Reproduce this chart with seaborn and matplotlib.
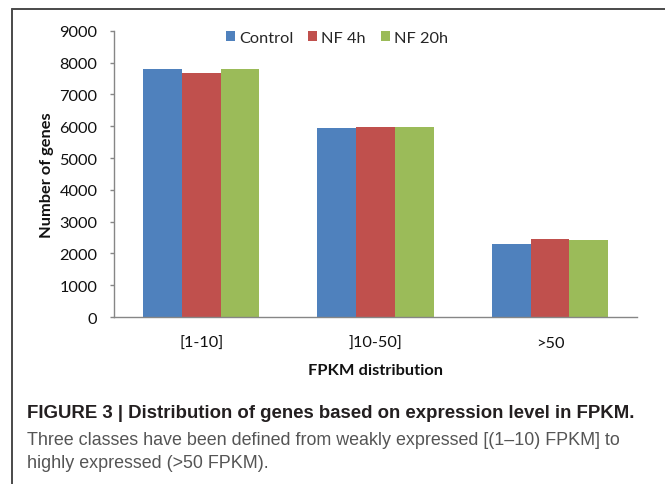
import matplotlib
matplotlib.use("Agg")
import matplotlib.pyplot as plt
from matplotlib.lines import Line2D
from matplotlib.patches import Patch
from matplotlib import font_manager
import seaborn as sns
import pandas as pd

categories = ["[1-10]", "]10-50]", ">50"]
series = ["Control", "NF 4h", "NF 20h"]
control = [7810, 5940, 2305]
nf4h = [7670, 5970, 2440]
nf20h = [7790, 5970, 2410]
colors = ["#4F81BD", "#C0504D", "#9BBB59"]
yticks = [0, 1000, 2000, 3000, 4000, 5000, 6000, 7000, 8000, 9000]

rows = []
for name, vals in zip(series, [control, nf4h, nf20h]):
    for c, v in zip(categories, vals):
        rows.append({"category": c, "series": name, "value": v})
df = pd.DataFrame(rows)

sns.set_theme(style="white")
names = {f.name for f in font_manager.fontManager.ttflist}
chart_font = "Lato" if "Lato" in names else "DejaVu Sans"
cap_font = "Liberation Sans Narrow" if "Liberation Sans Narrow" in names else "Liberation Sans"
plt.rcParams["font.family"] = [chart_font, "DejaVu Sans"]

FS = 11.8
fig = plt.figure(figsize=(6.65, 4.85), dpi=100)
ax = fig.add_axes([0.1714, 0.3443, 0.958 - 0.1714, 0.590])

sns.barplot(data=df, x="category", y="value", hue="series", order=categories,
            hue_order=series, palette=colors, width=0.667, gap=0,
            saturation=1, edgecolor="none", linewidth=0, ax=ax, legend=False)

ax.set_xlim(-0.5, 2.5)
ax.set_ylim(0, 9000)
ax.set_yticks(yticks)
ax.set_yticklabels([str(t) for t in yticks], fontsize=FS, color="#111111")
ax.set_xticks(range(len(categories)))
ax.set_xticklabels(categories, fontsize=FS, color="#111111")
ax.set_xticks([-0.5, 0.5, 1.5, 2.5], minor=True)
ax.tick_params(axis="x", which="major", length=0, pad=13.5)
ax.tick_params(axis="x", which="minor", length=4, width=1, color="#868686", direction="out")
ax.tick_params(axis="y", length=3, width=1, color="#868686", direction="out", pad=9, left=True)
for s in ["top", "right"]:
    ax.spines[s].set_visible(False)
for s in ["left", "bottom"]:
    ax.spines[s].set_color("#868686")
    ax.spines[s].set_linewidth(1)
ax.set_xlabel("FPKM distribution", fontsize=FS, fontweight="bold", labelpad=9.5, color="#111111")
ax.set_ylabel("Number of genes", fontsize=FS, fontweight="bold", labelpad=4, color="#111111")

handles = [Patch(facecolor=c, edgecolor="none") for c in colors]
fig.legend(handles, series, loc="center", bbox_to_anchor=(337 / 665, 1 - 39 / 485),
           ncol=3, frameon=False, fontsize=FS, handlelength=0.55, handleheight=0.55,
           handletextpad=0.25, columnspacing=0.9)

# outer frame
fig.add_artist(Line2D([12 / 665, 12 / 665], [0, 1 - 10 / 485], transform=fig.transFigure,
                      color="#4a4a4a", lw=1.4))
fig.add_artist(Line2D([12 / 665, 1], [1 - 10 / 485, 1 - 10 / 485], transform=fig.transFigure,
                      color="#4a4a4a", lw=1.4))

fig.text(27 / 665, 1 - 414 / 485, "FIGURE 3 | Distribution of genes based on expression level in FPKM.",
         family=[cap_font, "DejaVu Sans"], fontsize=13.4, fontweight="bold", color="#231f20", va="center")
fig.text(27 / 665, 1 - 441 / 485, "Three classes have been defined from weakly expressed [(1\u201310) FPKM] to",
         family=[cap_font, "DejaVu Sans"], fontsize=12.9, color="#555555", va="center")
fig.text(27 / 665, 1 - 464 / 485, "highly expressed (>50 FPKM).",
         family=[cap_font, "DejaVu Sans"], fontsize=12.9, color="#555555", va="center")

fig.savefig("out.png", dpi=100)
